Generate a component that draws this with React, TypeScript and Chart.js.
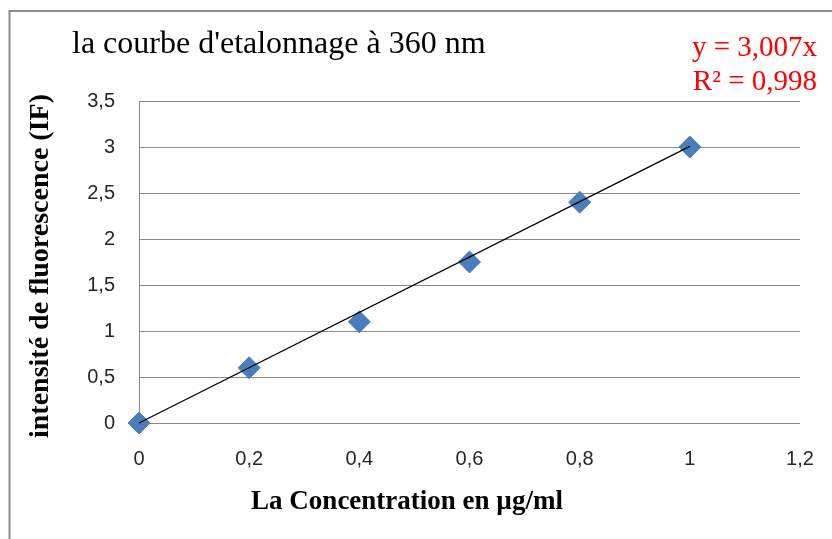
import React, { useEffect, useRef } from "react";
import { Chart, registerables } from "chart.js";

Chart.register(...registerables);

const CHART_TITLE = "la courbe d'etalonnage à 360 nm";
const EQUATION_LINE = "y = 3,007x";
const R2_LINE = "R² = 0,998";
const X_AXIS_TITLE = "La Concentration en µg/ml";
const Y_AXIS_TITLE = "intensité de fluorescence (IF)";

const CONCENTRATIONS = [0, 0.2, 0.4, 0.6, 0.8, 1];
const INTENSITIES = [0, 0.6, 1.1, 1.75, 2.4, 3.0];
const TREND_X = [0, 1];
const TREND_SLOPE = 3.007;

const X_MIN = 0;
const X_MAX = 1.2;
const X_STEP = 0.2;
const Y_MIN = 0;
const Y_MAX = 3.5;
const Y_STEP = 0.5;

const fmt = (v: number) => String(Number(Number(v).toFixed(2))).replace(".", ",");

const SERIF = "'Liberation Serif', 'Times New Roman', serif";
const SANS = "'Liberation Sans', Arial, sans-serif";

const framePlugin = {
  id: "frameAndTexts",
  beforeDraw(chart: any) {
    const ctx = chart.ctx;
    ctx.save();
    ctx.fillStyle = "#ffffff";
    ctx.fillRect(0, 0, chart.width, chart.height);
    ctx.strokeStyle = "#8c8c8c";
    ctx.lineWidth = 2;
    ctx.strokeRect(9.5, 11, chart.width + 50, chart.height + 50);
    ctx.restore();
  },
  afterDraw(chart: any) {
    const ctx = chart.ctx;
    ctx.save();
    ctx.textBaseline = "alphabetic";
    ctx.fillStyle = "#000000";
    ctx.font = `32px ${SERIF}`;
    ctx.textAlign = "left";
    ctx.fillText(CHART_TITLE, 72, 53);
    ctx.font = `bold 27px ${SERIF}`;
    ctx.textAlign = "center";
    ctx.fillText(X_AXIS_TITLE, 407, 509);
    ctx.save();
    ctx.translate(41, 266);
    ctx.rotate(-Math.PI / 2);
    ctx.font = `bold 28px ${SERIF}`;
    ctx.textAlign = "center";
    ctx.textBaseline = "middle";
    ctx.fillText(Y_AXIS_TITLE, 0, 0);
    ctx.restore();
    ctx.fillStyle = "#ff0000";
    ctx.font = `29px ${SERIF}`;
    ctx.textAlign = "right";
    ctx.fillText(EQUATION_LINE, 817, 56);
    ctx.fillText(R2_LINE, 817, 90);
    ctx.restore();
  },
};

export default function App() {
  const canvasRef = useRef<HTMLCanvasElement | null>(null);

  useEffect(() => {
    const canvas = canvasRef.current;
    if (!canvas) return;
    const chart = new Chart(canvas, {
      type: "scatter",
      data: {
        datasets: [
          {
            type: "line",
            label: "trend",
            data: TREND_X.map((x) => ({ x, y: TREND_SLOPE * x })),
            borderColor: "#000000",
            borderWidth: 1.3,
            pointRadius: 0,
            fill: false,
            clip: false,
            order: 0,
          } as any,
          {
            type: "scatter",
            label: "IF",
            data: CONCENTRATIONS.map((x, i) => ({ x, y: INTENSITIES[i] })),
            pointStyle: "rectRot",
            pointRadius: 11,
            backgroundColor: "#4a7ebb",
            borderColor: "#4a7ebb",
            borderWidth: 1,
            clip: false,
            order: 1,
          } as any,
        ],
      },
      options: {
        animation: false,
        responsive: false,
        devicePixelRatio: 1,
        layout: { autoPadding: false, padding: { left: 8, top: 101, right: 32, bottom: 0 } },
        plugins: {
          legend: { display: false },
          tooltip: { enabled: false },
          title: { display: false },
        },
        scales: {
          x: {
            type: "linear",
            min: X_MIN,
            max: X_MAX,
            grid: { display: false, drawTicks: false },
            border: { display: false },
            ticks: {
              stepSize: X_STEP,
              padding: 24,
              color: "#262626",
              font: { family: SANS, size: 20 },
              callback: (v: any) => fmt(v),
            },
            title: { display: false },
            afterFit: (s: any) => {
              s.height = 116;
              s.paddingRight = 0;
              s.paddingLeft = 0;
            },
          },
          y: {
            type: "linear",
            min: Y_MIN,
            max: Y_MAX,
            grid: { color: "#8a8a8a", lineWidth: 1, drawTicks: false },
            border: { display: true, color: "#8a8a8a", width: 1 },
            ticks: {
              stepSize: Y_STEP,
              padding: 24,
              color: "#262626",
              font: { family: SANS, size: 20 },
              callback: (v: any) => fmt(v),
            },
            title: { display: false },
            afterFit: (s: any) => {
              s.width = 131;
              s.paddingTop = 0;
              s.paddingBottom = 0;
            },
          },
        },
      },
      plugins: [framePlugin],
    } as any);
    return () => chart.destroy();
  }, []);

  return (
    <div style={{ position: "absolute", left: 0, top: 0, width: 832, height: 539 }}>
      <canvas ref={canvasRef} width={832} height={539} style={{ width: 832, height: 539 }} />
    </div>
  );
}
